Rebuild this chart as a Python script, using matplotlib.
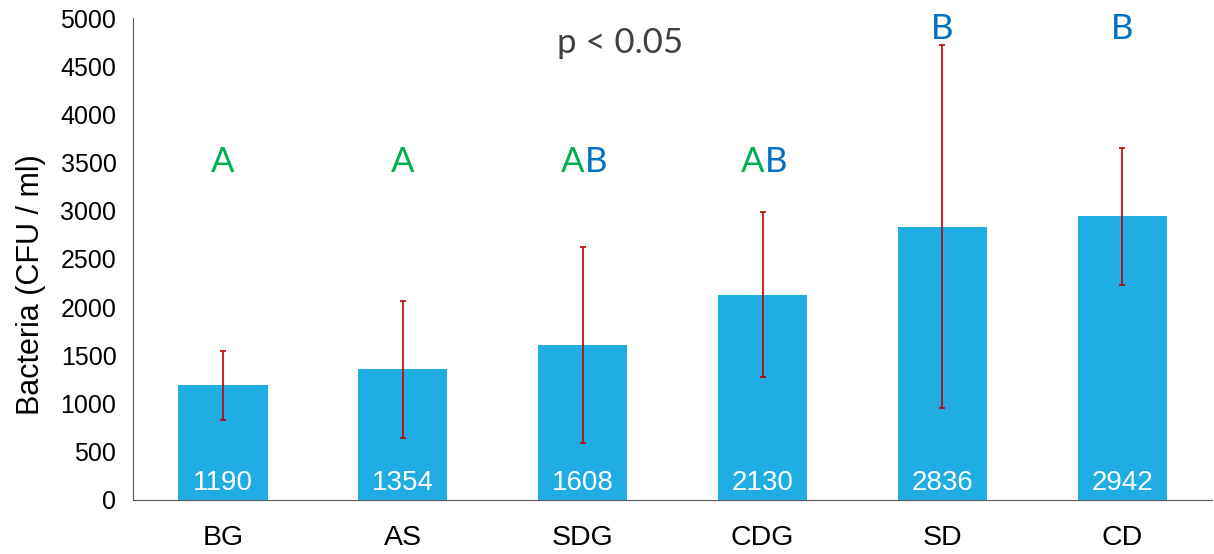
import numpy as np
import matplotlib.pyplot as plt

## data
groups = ['BG', 'AS', 'SDG', 'CDG', 'SD', 'CD']
means  = [1190, 1354, 1608, 2130, 2836, 2942]
errs   = [360, 710, 1020, 855, 1880, 710]
## significance letters: green part, blue part, baseline height
sig_green = ['A', 'A', 'A', 'A', '', '']
sig_blue  = ['', '', 'B', 'B', 'B', 'B']
sig_y     = [3400, 3400, 3400, 3400, 4782, 4782]

bar_col = '#1FADE4'
err_col = '#C00000'
green   = '#00B050'
blue    = '#0070C0'
lfont   = 'Lato'

fig = plt.figure(figsize=(12.14, 5.54), dpi=100)
ax = fig.add_axes([0.1096, 0.0975, 0.889, 0.870])

x = np.arange(len(groups))
ax.bar(x, means, width=0.495, color=bar_col, zorder=2)
ax.errorbar(x, means, yerr=errs, fmt='none', ecolor=err_col,
            elinewidth=1.2, capsize=2.5, capthick=1.2, zorder=3)

## values inside bars
for i in range(len(groups)):
    ax.text(x[i], 108, str(means[i]), color='white', ha='center', va='baseline',
            fontsize=20, family='Liberation Sans', zorder=4)

## significance letters
for i in range(len(groups)):
    g = sig_green[i]
    b = sig_blue[i]
    if g and b:
        ax.text(x[i] + 0.01, sig_y[i], g, color=green, ha='right', va='baseline',
                fontsize=25, family=lfont)
        ax.text(x[i] + 0.01, sig_y[i], b, color=blue, ha='left', va='baseline',
                fontsize=25, family=lfont)
    elif g:
        ax.text(x[i], sig_y[i], g, color=green, ha='center', va='baseline',
                fontsize=25, family=lfont)
    else:
        ax.text(x[i], sig_y[i], b, color=blue, ha='center', va='baseline',
                fontsize=25, family=lfont)

ax.text(2.21, 4634, 'p < 0.05', color='#404040', ha='center', va='baseline',
        fontsize=25, family=lfont)

ax.set_xlim(-0.5, 5.5)
ax.set_ylim(0, 5000)
ax.set_yticks(np.arange(0, 5001, 500))
ax.set_xticks(x)
ax.set_xticklabels(groups)
ax.tick_params(axis='both', length=0, colors='black')
ax.tick_params(axis='x', pad=18, labelsize=20.5)
ax.tick_params(axis='y', pad=12, labelsize=18)
for lab in ax.get_xticklabels() + ax.get_yticklabels():
    lab.set_family('Liberation Sans')
ax.set_ylabel('Bacteria (CFU / ml)', fontsize=22, family='Liberation Sans')
ax.yaxis.set_label_coords(-0.081, 0.446)

ax.spines['top'].set_visible(False)
ax.spines['right'].set_visible(False)
ax.spines['left'].set_color('#595959')
ax.spines['bottom'].set_color('#595959')

fig.savefig('out.png')
